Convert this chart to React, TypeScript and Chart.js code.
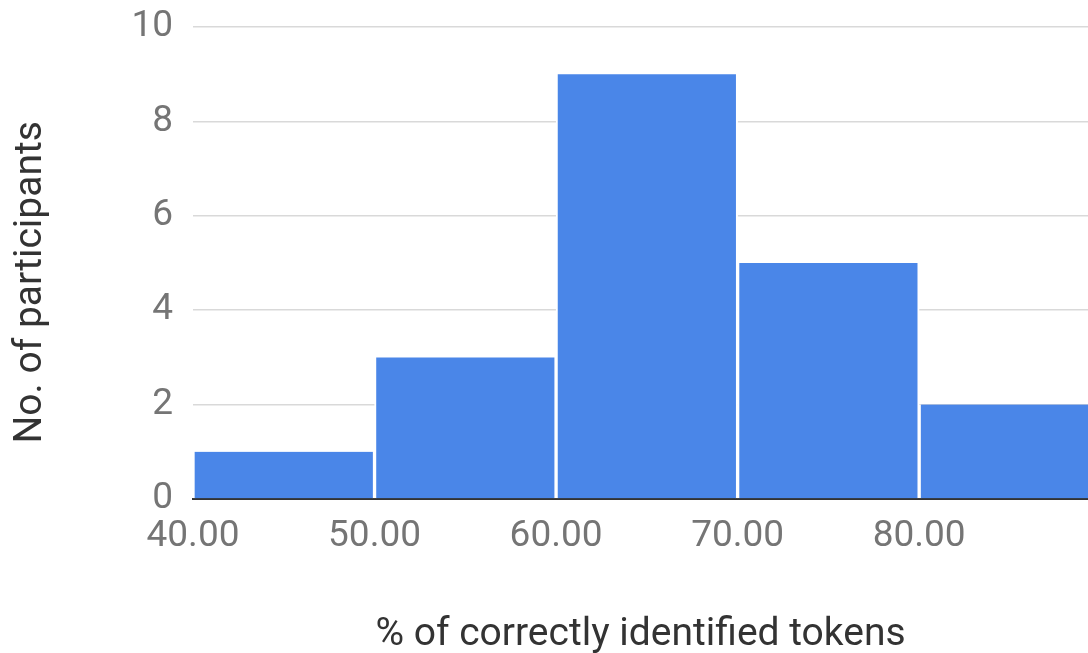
import React, { useEffect, useRef } from "react";
import { Chart, registerables } from "chart.js";

Chart.register(...registerables);

const binCenters = [45, 55, 65, 75, 85];
const participants = [1, 3, 9, 5, 2];
const xTickValues = [40, 50, 60, 70, 80];
const xTitle = "% of correctly identified tokens";
const yTitle = "No. of participants";

export default function App() {
  const ref = useRef<HTMLCanvasElement | null>(null);
  useEffect(() => {
    if (!ref.current) return;
    const chart = new Chart(ref.current, {
      type: "bar",
      data: {
        datasets: [
          {
            data: binCenters.map((x, i) => ({ x, y: participants[i] })),
            backgroundColor: "#4a86e8",
            borderColor: "#ffffff",
            borderWidth: { left: 2, right: 2, top: 0, bottom: 0 },
            borderSkipped: false,
            barPercentage: 1,
            categoryPercentage: 1,
          },
        ],
      },
      options: {
        animation: false,
        responsive: false,
        maintainAspectRatio: false,
        layout: { padding: { top: 27, right: 0, left: 0, bottom: 0 } },
        plugins: { legend: { display: false }, tooltip: { enabled: false } },
        scales: {
          x: {
            type: "linear",
            min: 40,
            max: 89.3,
            offset: false,
            grid: { display: false, offset: false, drawTicks: false },
            border: { display: true, color: "#333333", width: 2 },
            afterBuildTicks: (scale: any) => {
              scale.ticks = xTickValues.map((v) => ({ value: v }));
            },
            afterFit: (scale: any) => {
              scale.height = 154;
              scale.paddingLeft = 0;
              scale.paddingRight = 0;
            },
            ticks: {
              autoSkip: false,
              maxRotation: 0,
              padding: 16,
              color: "#757575",
              font: { family: "Roboto", size: 37 },
              callback: (v: any) => Number(v).toFixed(2),
            },
            title: {
              display: true,
              text: xTitle,
              color: "#333333",
              font: { family: "Roboto", size: 39 },
              padding: { top: 0, bottom: -6 },
            },
          },
          y: {
            min: 0,
            max: 10,
            grid: { color: "#d9d9d9", lineWidth: 1.5, drawTicks: false },
            border: { display: false },
            afterFit: (scale: any) => {
              scale.width = 193;
              scale.paddingTop = 0;
              scale.paddingBottom = 0;
            },
            ticks: {
              stepSize: 2,
              padding: 20,
              color: "#757575",
              font: { family: "Roboto", size: 37 },
            },
            title: {
              display: true,
              text: yTitle + "    ",
              color: "#333333",
              font: { family: "Roboto", size: 39 },
              padding: { top: 8, bottom: 0 },
            },
          },
        },
      },
    });
    return () => chart.destroy();
  }, []);
  return (
    <div style={{ position: "fixed", left: 0, top: 0, width: 1088, height: 653, background: "#fff" }}>
      <canvas ref={ref} width={1088} height={653} style={{ display: "block", width: 1088, height: 653 }} />
    </div>
  );
}
